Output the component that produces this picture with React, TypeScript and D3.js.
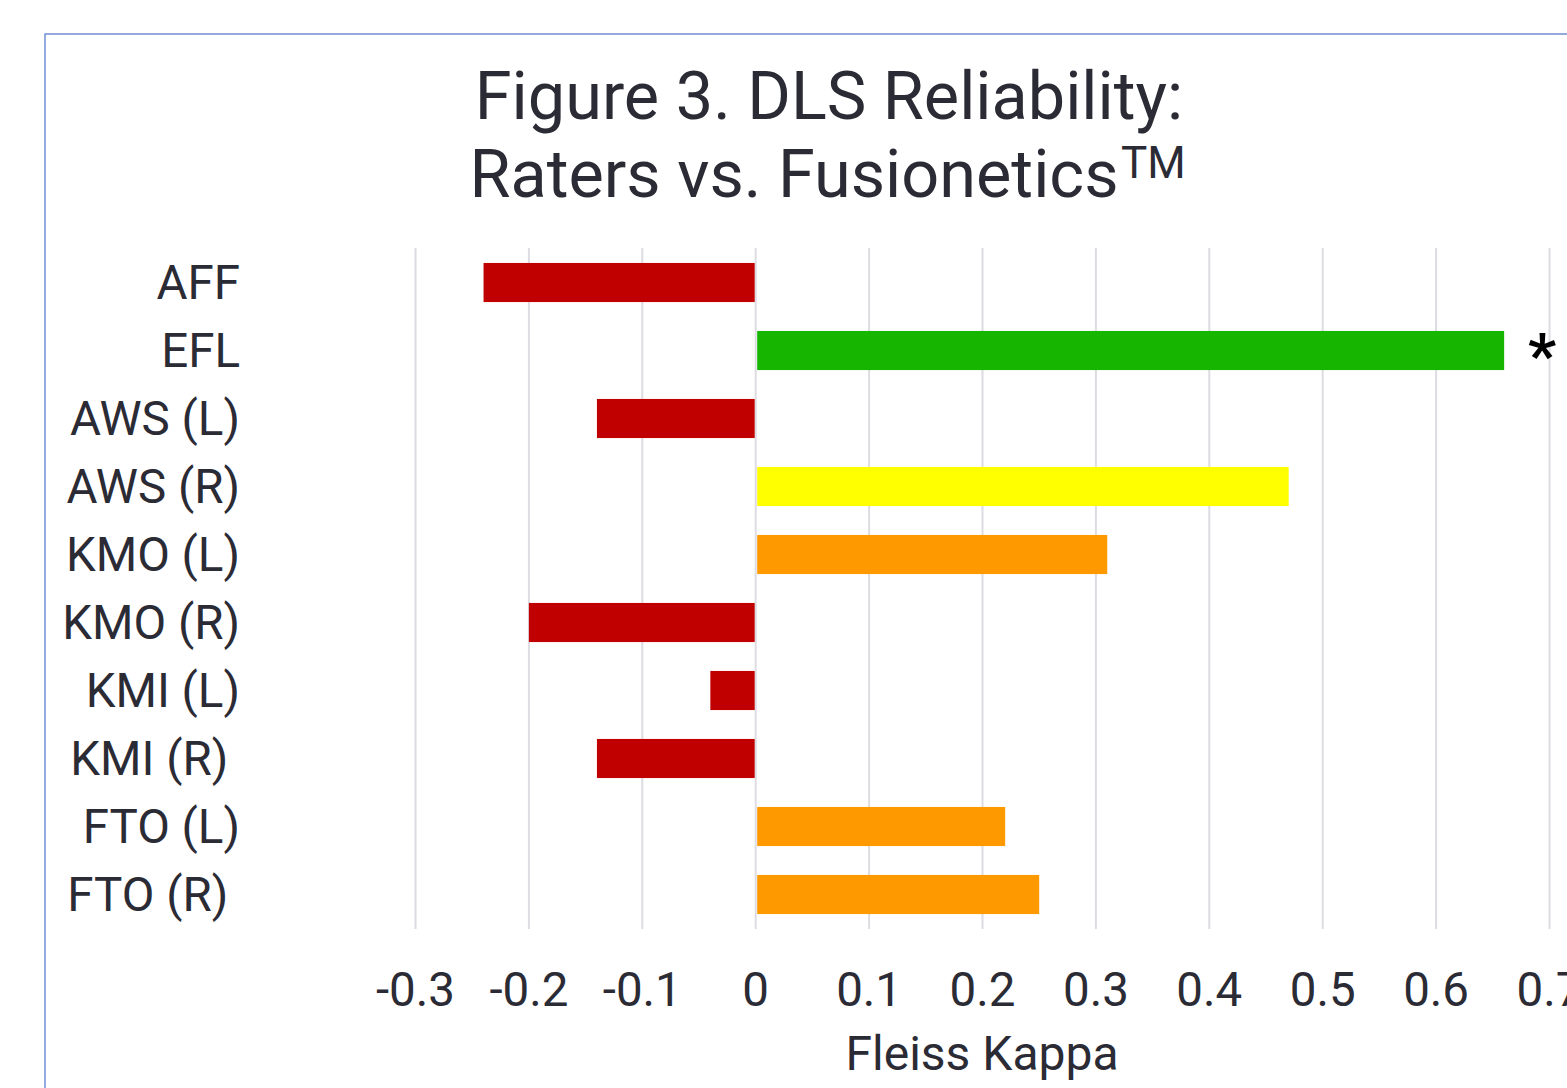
import React from "react";
import * as d3 from "d3";

const categories = ["AFF", "EFL", "AWS (L)", "AWS (R)", "KMO (L)", "KMO (R)", "KMI (L)", "KMI (R)\u00A0", "FTO (L)", "FTO (R)\u00A0"];
const kappaValues = [-0.24, 0.66, -0.14, 0.47, 0.31, -0.2, -0.04, -0.14, 0.22, 0.25];
const barColors = ["#C00000", "#15B500", "#C00000", "#FFFF00", "#FF9900", "#C00000", "#C00000", "#C00000", "#FF9900", "#FF9900"];
const significant = [false, true, false, false, false, false, false, false, false, false];
const xTicks = [-0.3, -0.2, -0.1, 0, 0.1, 0.2, 0.3, 0.4, 0.5, 0.6, 0.7];
const tickLabels = ["-0.3", "-0.2", "-0.1", "0", "0.1", "0.2", "0.3", "0.4", "0.5", "0.6", "0.7"];

const W = 1567;
const H = 1088;
const FONT = "Roboto, 'Noto Sans', sans-serif";
const TEXT = "#2b2b35";

export default function App() {
  const x = d3.scaleLinear().domain([-0.3, 0.7]).range([415.5, 1549.5]);
  const y = d3.scaleBand<string>().domain(categories).range([248.5, 928.5]).paddingInner(0.425).paddingOuter(0.2125);
  const x0 = x(0);
  return (
    <svg width={W} height={H} style={{ position: "absolute", left: 0, top: 0, background: "#fff" }} fontFamily={FONT}>
      <rect x={45} y={34} width={W + 100} height={H + 100} fill="#fff" stroke="#6f8fd3" strokeWidth={1.5} />
      <text x={829} y={119} textAnchor="middle" fontSize={66.6} fill={TEXT}>Figure 3. DLS Reliability:</text>
      <text x={794} y={197} textAnchor="middle" fontSize={66.6} fill={TEXT}>Raters vs. Fusionetics</text>
      <text x={1121} y={178} fontSize={44} fill={TEXT}>TM</text>
      {xTicks.map((t) => (
        <line key={"g" + t} x1={x(t)} x2={x(t)} y1={248} y2={929} stroke="#dcdce2" strokeWidth={2} />
      ))}
      {categories.map((c, i) => {
        const v = kappaValues[i];
        const bx = v < 0 ? x(v) : x0 + 1.5;
        const bw = v < 0 ? x0 - 1 - x(v) : x(v) - x0 - 1.5;
        return <rect key={c} x={bx} y={y(c)} width={bw} height={y.bandwidth()} fill={barColors[i]} />;
      })}
      {categories.map((c, i) =>
        significant[i] ? (
          <text key={"s" + c} x={x(kappaValues[i]) + 38} y={(y(c) as number) + y.bandwidth() / 2 + 26} textAnchor="middle" fontSize={62} fontWeight="bold" fill="#000">*</text>
        ) : null
      )}
      {categories.map((c) => (
        <text key={"l" + c} x={240} y={(y(c) as number) + y.bandwidth() / 2 + 16} textAnchor="end" fontSize={47.5} fill={TEXT} style={{ whiteSpace: "pre" }}>{c}</text>
      ))}
      {xTicks.map((t, i) => (
        <text key={"t" + t} x={x(t)} y={1006} textAnchor="middle" fontSize={47.5} fill={TEXT}>{tickLabels[i]}</text>
      ))}
      <text x={982} y={1070} textAnchor="middle" fontSize={48} fill={TEXT}>Fleiss Kappa</text>
    </svg>
  );
}
